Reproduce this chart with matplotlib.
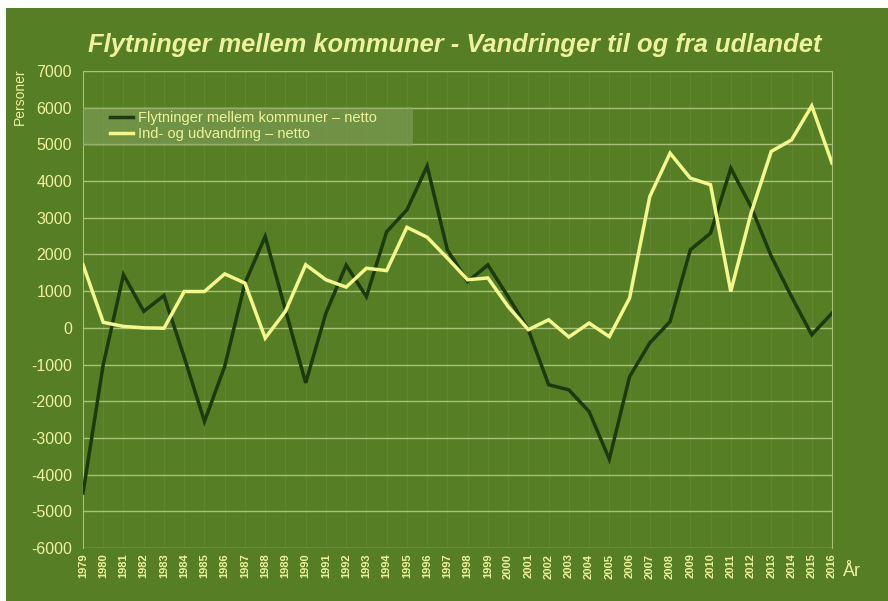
import matplotlib
matplotlib.use("Agg")
import matplotlib.pyplot as plt
from matplotlib.patches import Rectangle

years = list(range(1979, 2017))

flytninger_netto = [
    -4500, -1000, 1450, 450, 880, -800, -2550, -1050, 1220, 2490,
    490, -1500, 400, 1710, 850, 2620, 3215, 4410, 2125, 1260,
    1715, 850, -50, -1550, -1690, -2280, -3580, -1330, -410, 170,
    2125, 2580, 4350, 3300, 1950, 850, -190, 400,
]

vandring_netto = [
    1720, 150, 40, 0, -10, 990, 990, 1470, 1220, -280,
    450, 1720, 1310, 1110, 1625, 1560, 2740, 2470, 1900, 1310,
    1360, 580, -50, 220, -250, 130, -240, 810, 3580, 4760,
    4080, 3900, 990, 3125, 4810, 5120, 6050, 4490,
]

series_labels = ["Flytninger mellem kommuner – netto", "Ind- og udvandring – netto"]
title = "Flytninger mellem kommuner - Vandringer til og fra udlandet"
y_ticks = list(range(-6000, 7001, 1000))

BG = "#567e25"
TXT = "#eef29c"
GRID = "#a9c278"
NARROW = ["Liberation Sans Narrow", "Liberation Sans", "DejaVu Sans"]

W, H = 888, 601
fig = plt.figure(figsize=(W / 100, H / 100), dpi=100)
fig.patch.set_facecolor("white")
fig.patches.append(Rectangle((6 / W, 0), 1, 1 - 8 / H, transform=fig.transFigure,
                             facecolor=BG, edgecolor="none", zorder=-10))

ax = fig.add_axes([83 / W, 1 - 548 / H, (832 - 83) / W, (548 - 71) / H])
ax.set_facecolor(BG)

ax.plot(years, flytninger_netto, color="#1c3a0e", lw=2.5, label=series_labels[0],
        solid_joinstyle="miter", zorder=3)
ax.plot(years, vandring_netto, color="#f3f78c", lw=2.5, label=series_labels[1],
        solid_joinstyle="miter", zorder=4)

ax.set_xlim(years[0], years[-1])
ax.set_ylim(-6000, 7000)
ax.set_yticks(y_ticks)
ax.set_yticklabels([str(v) for v in y_ticks], color=TXT, fontsize=11.5,
                   family=NARROW)
ax.set_xticks(years)
ax.set_xticklabels([str(y) for y in years], rotation=90, color=TXT, fontsize=8,
                   fontweight="bold", family=NARROW)
ax.tick_params(axis="both", length=0, pad=4)
ax.tick_params(axis="y", pad=8)

for v in y_ticks:
    ax.axhline(v, color=GRID, lw=1.0, zorder=1)
for y in years:
    ax.axvline(y, color="#6f9040", lw=0.6, alpha=0.5, zorder=0.5)

for side in ["top", "bottom"]:
    ax.spines[side].set_visible(False)
for side in ["left", "right"]:
    ax.spines[side].set_color(GRID)
    ax.spines[side].set_linewidth(0.8)

fig.text(455 / W, 1 - 45 / H, title, ha="center", va="center", color=TXT,
         fontsize=18.4, fontweight="bold", fontstyle="italic", family=NARROW)
fig.text(20 / W, 1 - 97 / H, "Personer", rotation=90, ha="center", va="center",
         color=TXT, fontsize=10, family=NARROW)
fig.text(852 / W, 1 - 572 / H, "År", ha="center", va="center", color=TXT,
         fontsize=13, family=NARROW)

# translucent panel behind the legend entries
ax.add_patch(Rectangle((0.0, 0.843), 0.44, 0.082, transform=ax.transAxes,
                       facecolor="#86a45e", alpha=0.55, edgecolor="none", zorder=5))

leg = ax.legend(loc="center left", bbox_to_anchor=(0.036, 0.884), frameon=False,
                prop={"family": NARROW, "size": 10.5},
                handlelength=1.6, handletextpad=0.3, borderpad=0.0,
                labelspacing=0.15, borderaxespad=0)
leg.set_zorder(6)
for t in leg.get_texts():
    t.set_color(TXT)

fig.savefig("out.png", dpi=100, facecolor=fig.get_facecolor())
